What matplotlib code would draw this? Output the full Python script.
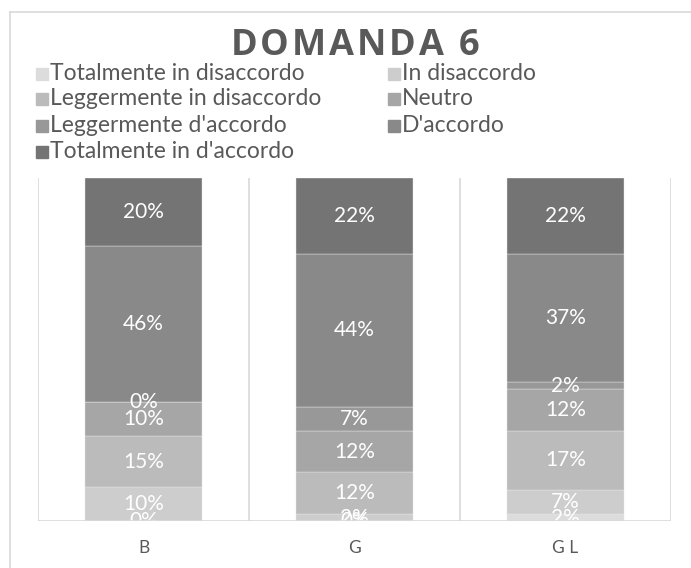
import numpy as np
import matplotlib.pyplot as plt
from matplotlib.patches import Rectangle
from matplotlib.lines import Line2D
from matplotlib.font_manager import FontProperties

categories = ["B", "G", "G L"]
series = ["Totalmente in disaccordo", "In disaccordo", "Leggermente in disaccordo",
          "Neutro", "Leggermente d'accordo", "D'accordo", "Totalmente in d'accordo"]
values = [
    [0, 0, 2],     # Totalmente in disaccordo
    [10, 2, 7],    # In disaccordo
    [15, 12, 17],  # Leggermente in disaccordo
    [10, 12, 12],  # Neutro
    [0, 7, 2],     # Leggermente d'accordo
    [46, 44, 37],  # D'accordo
    [20, 22, 22],  # Totalmente in d'accordo
]
colors = ["#DCDCDC", "#CDCDCD", "#BBBBBB", "#A6A6A6", "#989898", "#898989", "#747474"]
title = "DOMANDA 6"

W, H = 691, 568
plt.rcParams['font.family'] = ['Lato', 'DejaVu Sans']
fig = plt.figure(figsize=(W / 100, H / 100), dpi=100)


def fx(px):
    return px / W


def fy(py):
    return 1 - py / H


# outer chart border (left and top visible)
fig.add_artist(Line2D([fx(10), fx(10)], [fy(12), 0], color="#D9D9D9", lw=1.2))
fig.add_artist(Line2D([fx(10), 1], [fy(12), fy(12)], color="#D9D9D9", lw=1.2))

ax = fig.add_axes([fx(38), fy(521), fx(671) - fx(38), fy(178) - fy(521)])

vals = np.array(values, dtype=float)
totals = vals.sum(axis=0)
x = np.arange(len(categories))
bottom = np.zeros(len(categories))
for i, name in enumerate(series):
    h = vals[i] / totals
    ax.bar(x, h, 0.555, bottom=bottom, color=colors[i], edgecolor="#e6e6e6", linewidth=0.3, zorder=2)
    for j in range(len(categories)):
        ax.text(x[j], bottom[j] + h[j] / 2, f"{int(vals[i][j])}%", ha="center", va="center",
                color="white", fontsize=15, zorder=3, clip_on=True)
    bottom += h

ax.set_xlim(-0.5, len(categories) - 0.5)
ax.set_ylim(0, 1)
for xv in np.arange(-0.5, len(categories), 1.0):
    ax.axvline(xv, color="#D9D9D9", lw=1.2, zorder=1)
ax.axhline(0, color="#D9D9D9", lw=1.2, zorder=4)
for s in ax.spines.values():
    s.set_visible(False)
ax.set_yticks([])
ax.set_xticks(x)
ax.set_xticklabels(categories, color="#595959", fontsize=12.5)
ax.tick_params(axis="x", length=0, pad=14)

# title with Excel-like letter spacing
tp = FontProperties(family="Open Sans", weight="bold", size=26)
renderer = fig.canvas.get_renderer()
track = 3.0
widths = []
for ch in title:
    if ch == " ":
        w = renderer.get_text_width_height_descent("A A", tp, ismath=False)[0] - \
            renderer.get_text_width_height_descent("AA", tp, ismath=False)[0]
    else:
        w = renderer.get_text_width_height_descent(ch, tp, ismath=False)[0]
    widths.append(w)
total = sum(widths) + track * (len(title) - 1)
cur = 355 - total / 2
for ch, w in zip(title, widths):
    if ch != " ":
        fig.text(fx(cur), fy(55), ch, ha="left", va="baseline", fontproperties=tp, color="#595959")
    cur += w + track

# legend, Excel style row-wise in two columns
for i, name in enumerate(series):
    row, col = divmod(i, 2)
    cx = 36 if col == 0 else 388
    mid = 73.5 + row * 26
    fig.add_artist(Rectangle((fx(cx), fy(mid + 6)), fx(12), fy(0) - fy(12),
                             transform=fig.transFigure, color=colors[i]))
    fig.text(fx(cx + 14), fy(mid + 6), name, ha="left", va="baseline", fontsize=16.5, color="#595959")

fig.savefig("out.png", dpi=100)
